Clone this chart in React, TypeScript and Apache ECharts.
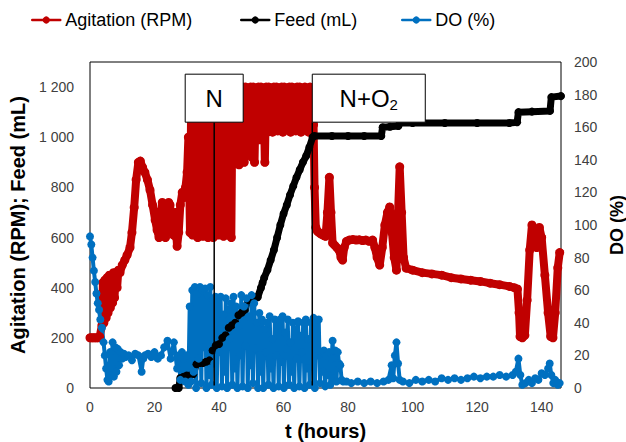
import React, { useEffect, useRef } from "react";
import * as echarts from "echarts";

// ---------- data ----------
const xTicks = [0, 20, 40, 60, 80, 100, 120, 140];
const leftTicks = [0, 200, 400, 600, 800, 1000, 1200];
const rightTicks = [0, 20, 40, 60, 80, 100, 120, 140, 160, 180, 200];

// Agitation (RPM), left axis: [t (h), rpm]
const agitation: [number, number][] = [
  [0, 200], [0.5, 200], [1, 200], [1.5, 200], [2, 200], [2.5, 200], [3, 205],
  [3.7, 250], [4, 420], [4.3, 260], [4.6, 430], [5, 280], [5.3, 440], [5.6, 300], [6, 450],
  [6.3, 320], [6.6, 450], [7, 340], [7.3, 460], [7.6, 360], [8, 460], [8.4, 400], [8.8, 470],
  [9.3, 460], [10, 490], [10.8, 510], [11.5, 530], [12.4, 560], [13, 620], [13.7, 720],
  [14.3, 830], [15, 900], [15.6, 905], [16.3, 880], [17, 860], [17.8, 830], [18.6, 790],
  [19.4, 730], [20.2, 670], [20.8, 630], [21.4, 600], [21.9, 700], [22.4, 740], [22.9, 660],
  [23.4, 600], [23.9, 690], [24.4, 740], [24.8, 730], [25.3, 650], [25.9, 610], [26.4, 700],
  [26.8, 600], [27, 565], [27.5, 620], [28, 730], [28.6, 780], [29.2, 760], [29.6, 800], [30.1, 860],
  [30.5, 1000], [31, 620], [31.4, 1200], [31.8, 610], [32.2, 1190], [32.6, 640], [33, 1200],
  [33.4, 600], [33.8, 1180], [34.2, 620], [34.6, 1200], [35, 605], [35.4, 1150], [35.8, 630],
  [36.2, 1200], [36.6, 600], [37, 1190], [37.4, 615], [37.8, 1200], [38.2, 600], [38.6, 1170],
  [39, 625], [39.4, 1200], [39.8, 610], [40.2, 1190], [40.6, 640], [41, 1200], [41.4, 605],
  [41.8, 1180], [42.2, 620], [42.6, 1200], [43, 610], [43.4, 1190], [43.8, 600], [44.2, 1200],
  [44.6, 900], [45, 1200], [45.4, 910], [45.8, 1190], [46.2, 890], [46.6, 1200], [47, 920],
  [47.4, 1200], [47.8, 900], [48.2, 1200], [48.6, 1010], [49, 1190], [49.4, 1000], [49.8, 1200],
  [50.2, 920], [50.6, 1200], [51, 900], [51.4, 1180], [51.8, 1010], [52.2, 1200], [52.6, 990],
  [53, 1200], [53.4, 1020], [53.8, 1190], [54.2, 900], [54.6, 1200], [55, 1020], [55.4, 1200],
  [55.8, 1030], [56.2, 1190], [56.6, 1020], [57, 1200], [57.4, 1040], [57.8, 1200], [58.2, 1025],
  [58.6, 1180], [59, 1030], [59.4, 1200], [59.8, 1020], [60.2, 1200], [60.6, 1040], [61, 1190],
  [61.4, 1030], [61.8, 1200], [62.2, 1020], [62.6, 1200], [63, 1035], [63.4, 1190], [63.8, 1025],
  [64.2, 1200], [64.6, 1030], [65, 1200], [65.4, 1020], [65.8, 1180], [66.2, 1040], [66.6, 1200],
  [67, 1030], [67.4, 1190], [67.8, 1020], [68.2, 1200], [68.6, 1060], [69, 1180], [69.3, 1050],
  [69.6, 800], [70, 640], [70.5, 625], [71, 620], [71.5, 615], [72, 612], [72.5, 608], [73, 605],
  [73.6, 700], [74.2, 840], [74.7, 700], [75.2, 578], [75.8, 570], [76.5, 560], [77.2, 550],
  [77.8, 520], [78.3, 510], [78.8, 560], [79.5, 585], [80.4, 590], [81.5, 592], [82.5, 590],
  [83.5, 591], [84.5, 588], [85.5, 590], [86.5, 585], [87.6, 590], [88.3, 560], [89, 520],
  [89.8, 490], [90.6, 560], [91.4, 650], [92.2, 700], [92.9, 722], [93.6, 620], [94.3, 520],
  [95, 470], [95.5, 700], [96, 882], [96.6, 700], [97.2, 520], [98, 478], [100, 470], [103, 460],
  [106, 455], [109, 450], [112, 440], [115, 435], [118, 430], [121, 425], [124, 418], [127, 412],
  [130, 405], [131.5, 400], [132.5, 395], [133, 300], [133.3, 205], [134, 200], [134.8, 210],
  [135.5, 350], [136.3, 550], [137, 650], [137.8, 620], [138.5, 560], [139.3, 640], [140, 600],
  [141, 450], [142, 300], [142.8, 205], [143.5, 200], [144.2, 300], [145, 480], [145.6, 540],
];

// Feed (mL), left axis: [t (h), mL]
const feed: [number, number][] = [
  [26.5, 0], [27.5, 0], [28, 40], [29, 45], [30, 50], [31, 50], [32, 55], [33, 95], [34, 100],
  [35, 100], [36, 105], [37, 110], [38, 150], [39, 170], [40, 175], [41, 200], [42, 210],
  [43, 240], [44, 250], [45, 260], [46, 290], [47, 300], [48, 310], [49, 350], [50, 360],
  [51, 362], [52, 362], [53, 400], [53.5, 420], [54, 440], [55, 470], [56, 510], [57, 550],
  [58, 600], [59, 650], [60, 695], [61, 730], [62, 770], [63, 805], [64, 840], [65, 870],
  [66, 900], [67, 925], [68, 960], [69, 1000], [69.5, 1005], [75, 1005], [80, 1005], [85, 1005],
  [90.3, 1005], [90.7, 1040], [93, 1042], [95.6, 1045], [96, 1057], [100, 1057], [110, 1057],
  [120, 1057], [130, 1057], [132.4, 1060], [132.8, 1100], [137, 1102], [142.6, 1105],
  [143, 1160], [146, 1164],
];

// DO (%), right axis: [t (h), %]
const dissolvedO2: [number, number][] = [
  [0, 93], [0.4, 88], [0.8, 80], [1.2, 72], [1.6, 65], [2, 58], [2.4, 52], [2.8, 48], [3.2, 42],
  [3.7, 37], [4.2, 28], [4.6, 20], [5, 12], [5.4, 5], [5.8, 4], [6.2, 22], [6.6, 8], [7, 28],
  [7.4, 7], [7.8, 25], [8.2, 10], [8.6, 24], [9, 14], [9.5, 22], [10, 18], [10.5, 21], [11, 19],
  [12, 20], [13, 17], [14, 21], [15, 20], [16, 10], [16.5, 18], [17, 20], [18, 21], [19, 19],
  [20, 22], [21, 18], [22, 20], [23, 25], [24, 29], [25, 18], [26, 28], [27, 12], [27.5, 20],
  [28, 5], [28.5, 22], [29, 18], [29.5, 4], [30, 20],
  [30.5, 2], [30.9, 50], [31.3, 4], [31.7, 60], [32.1, 10], [32.5, 62], [32.9, 0], [33.3, 58],
  [33.7, 18], [34.1, 62], [34.5, 3], [34.9, 60], [35.3, 25], [35.7, 61], [36.1, 0], [36.5, 57],
  [36.9, 8], [37.3, 62], [37.7, 2], [38.1, 54], [38.5, 15], [38.9, 56], [39.3, 0], [39.7, 52],
  [40.1, 22], [40.5, 56], [40.9, 1], [41.3, 45], [41.7, 10], [42.1, 55], [42.5, 0], [42.9, 48],
  [43.3, 30], [43.7, 52], [44.1, 2], [44.5, 56], [44.9, 12], [45.3, 50], [45.7, 0], [46.1, 38],
  [46.5, 20], [46.9, 57], [47.3, 1], [47.7, 50], [48.1, 26], [48.5, 55], [48.9, 0], [49.3, 44],
  [49.7, 14], [50.1, 57], [50.5, 3], [50.9, 52], [51.3, 24], [51.7, 40], [52.1, 0], [52.5, 46],
  [52.9, 10], [53.3, 42], [53.7, 0], [54.1, 36], [54.5, 22], [54.9, 40], [55.3, 2], [55.7, 44],
  [56.1, 12], [56.5, 30], [56.9, 0], [57.3, 42], [57.7, 20], [58.1, 38], [58.5, 1], [58.9, 42],
  [59.3, 16], [59.7, 44], [60.1, 0], [60.5, 34], [60.9, 24], [61.3, 42], [61.7, 2], [62.1, 28],
  [62.5, 10], [62.9, 40], [63.3, 0], [63.7, 36], [64.1, 18], [64.5, 41], [64.9, 1], [65.3, 32],
  [65.7, 22], [66.1, 40], [66.5, 0], [66.9, 42], [67.3, 12], [67.7, 30], [68.1, 2], [68.5, 40],
  [68.9, 16], [69.3, 43], [69.7, 0], [70.1, 40], [70.5, 20], [70.9, 42], [71.3, 3], [71.7, 22],
  [72.1, 10], [72.5, 23], [72.9, 1], [73.3, 20], [73.7, 8], [74.1, 22], [74.5, 2], [74.9, 18],
  [75.2, 29], [75.6, 6], [76, 23], [76.4, 4], [76.8, 22], [77.2, 15], [77.6, 14], [78, 5],
  [78.5, 4], [79.5, 4], [81, 3], [83, 4], [85, 3], [87, 4], [89, 3], [91, 4], [92.5, 5],
  [93.5, 14], [94, 6], [94.5, 20], [95, 28], [95.5, 15], [96, 5], [97, 4], [99, 3], [101, 5],
  [103, 4], [105, 5], [107, 4], [109, 6], [111, 5], [113, 6], [115, 5], [117, 6], [119, 7],
  [121, 6], [123, 7], [125, 7], [127, 8], [129, 7], [131, 8], [132, 10], [132.8, 18], [133.4, 8],
  [134, 2], [135, 3], [136, 5], [137, 3], [138, 6], [139, 5], [140, 9], [141, 8], [142, 12],
  [142.5, 15], [143, 8], [143.6, 3], [144.2, 5], [145, 2], [145.6, 3],
];

// annotation events (hours) and labels
const eventTimes = [38.5, 68.9];
const eventLabels = ["N", "N+O{sub|2}"];

const RED = "#C00000";
const BLACK = "#000000";
const BLUE = "#0070C0";
const TICK_COLOR = "#404040";
const FONT = "'Liberation Sans', Arial, sans-serif";

const fmtThousands = (v: number) => String(v).replace(/\B(?=(\d{3})+(?!\d))/g, " ");

export default function App() {
  const ref = useRef<HTMLDivElement>(null);

  useEffect(() => {
    document.body.style.margin = "0";
    if (!ref.current) return;
    const chart = echarts.init(ref.current, null, { renderer: "svg" });

    const legendBase = {
      top: 6,
      itemWidth: 28,
      itemHeight: 9,
      textStyle: { fontSize: 18, fontFamily: FONT, color: "#000" },
      lineStyle: { width: 2.5 },
      selectedMode: false,
    };

    const lineSeries = (
      name: string,
      data: [number, number][],
      color: string,
      yAxisIndex: number,
      width: number,
      size: number
    ) => ({
      name,
      type: "line",
      data,
      yAxisIndex,
      symbol: "circle",
      symbolSize: size,
      showSymbol: true,
      showAllSymbol: true,
      lineStyle: { width, color, cap: "round", join: "round" },
      itemStyle: { color },
      emphasis: { disabled: true },
    });

    chart.setOption({
      animation: false,
      textStyle: { fontFamily: FONT },
      legend: [
        { ...legendBase, left: 26, data: ["Agitation (RPM)"] },
        { ...legendBase, left: 235, data: ["Feed (mL)"] },
        { ...legendBase, left: 396, data: ["DO (%)"] },
      ],
      grid: {
        left: 90,
        right: 65,
        top: 62,
        bottom: 54,
        outerBoundsMode: "none",
        containLabel: false,
        show: true,
        borderColor: "#000",
        borderWidth: 1,
        backgroundColor: "transparent",
      },
      xAxis: {
        type: "value",
        min: 0,
        max: 146,
        interval: 20,
        name: "t (hours)",
        nameLocation: "middle",
        nameGap: 33,
        nameTextStyle: { fontSize: 20, fontWeight: "bold", color: "#000" },
        axisLine: { show: false },
        axisTick: { show: false },
        splitLine: { show: false },
        axisLabel: {
          fontSize: 14,
          color: TICK_COLOR,
          margin: 12,
          formatter: (v: number) => (xTicks.includes(v) ? String(v) : ""),
        },
      },
      yAxis: [
        {
          type: "value",
          position: "left",
          min: 0,
          max: 1300,
          interval: 200,
          name: "Agitation (RPM); Feed (mL)",
          nameLocation: "middle",
          nameGap: 52,
          nameTextStyle: { fontSize: 20, fontWeight: "bold", color: "#000" },
          axisLine: { show: false },
          axisTick: { show: false },
          splitLine: { show: false },
          axisLabel: {
            fontSize: 14,
            color: TICK_COLOR,
            margin: 16,
            formatter: (v: number) => (leftTicks.includes(v) ? fmtThousands(v) : ""),
          },
        },
        {
          type: "value",
          position: "right",
          min: 0,
          max: 200,
          interval: 20,
          name: "DO (%)",
          nameLocation: "middle",
          nameGap: 40,
          nameTextStyle: { fontSize: 18, fontWeight: "bold", color: "#000" },
          axisLine: { show: false },
          axisTick: { show: false },
          splitLine: { show: false },
          axisLabel: {
            fontSize: 14,
            color: TICK_COLOR,
            margin: 13,
            formatter: (v: number) => (rightTicks.includes(v) ? String(v) : ""),
          },
        },
      ],
      series: [
        lineSeries("Agitation (RPM)", agitation, RED, 0, 8, 9),
        lineSeries("Feed (mL)", feed, BLACK, 0, 7, 8),
        lineSeries("DO (%)", dissolvedO2, BLUE, 1, 4, 8),
      ],
    });

    // annotation lines + boxes placed through the axes' scales
    const lineTopValue = 1060;
    const lineBottomValue = 10;
    const boxH = 48;
    const boxW = [58, 113];
    const graphics: any[] = [];
    eventTimes.forEach((t, i) => {
      const top = chart.convertToPixel({ gridIndex: 0 }, [t, lineTopValue]) as number[];
      const bot = chart.convertToPixel({ gridIndex: 0 }, [t, lineBottomValue]) as number[];
      const x = top[0];
      graphics.push({
        type: "line",
        z: 100,
        shape: { x1: x, y1: top[1], x2: x, y2: bot[1] },
        style: { stroke: "#000", lineWidth: 1.5 },
        silent: true,
      });
      const bx = i === 0 ? x - boxW[i] / 2 : x;
      graphics.push({
        type: "rect",
        z: 100,
        shape: { x: bx, y: top[1] - boxH, width: boxW[i], height: boxH },
        style: { fill: "#fff", stroke: "#000", lineWidth: 1 },
        silent: true,
      });
      graphics.push({
        type: "text",
        z: 101,
        x: bx + boxW[i] / 2,
        y: top[1] - boxH / 2,
        style: {
          text: eventLabels[i],
          fontSize: 24,
          fontFamily: FONT,
          fill: "#000",
          align: "center",
          verticalAlign: "middle",
          rich: {
            sub: { fontSize: 15, padding: [12, 0, 0, 0], fontFamily: FONT },
          },
        },
        silent: true,
      });
    });
    chart.setOption({ graphic: graphics });

    return () => chart.dispose();
  }, []);

  return <div ref={ref} style={{ width: 626, height: 442 }} />;
}
